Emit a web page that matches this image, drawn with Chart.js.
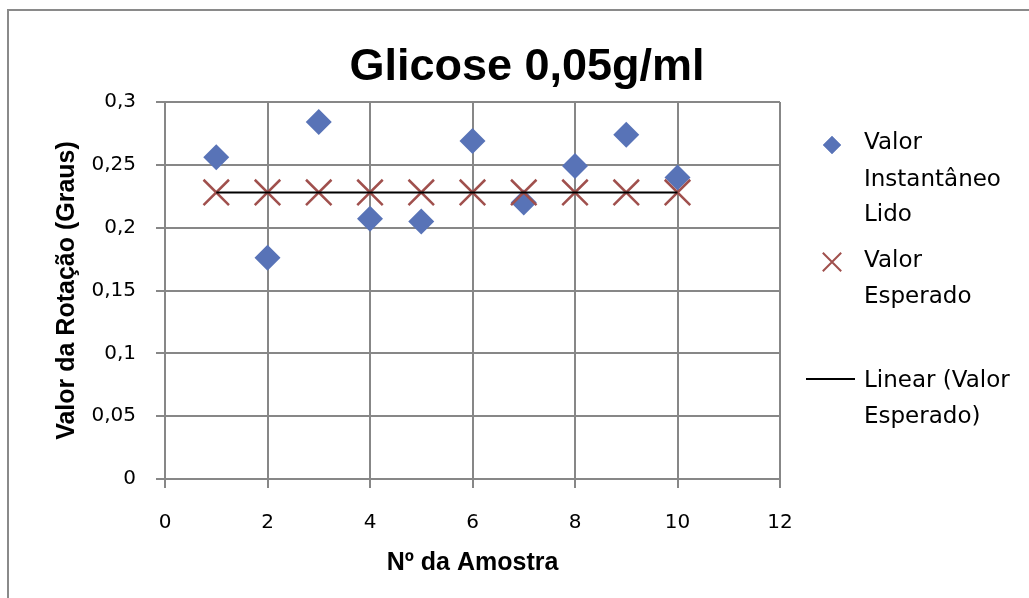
<!DOCTYPE html>
<html>
<head>
<meta charset="utf-8">
<script src="https://cdn.jsdelivr.net/npm/chart.js@4"></script>
<style>
  html, body { margin: 0; padding: 0; background: #fff; }
  canvas { display: block; }
</style>
</head>
<body>
<canvas id="grafico" width="1029" height="598"></canvas>
<script>
// Amostras e leituras
const amostras = [1, 2, 3, 4, 5, 6, 7, 8, 9, 10];
const valorLido = [0.256, 0.176, 0.284, 0.207, 0.205, 0.269, 0.220, 0.249, 0.274, 0.240];
const valorEsperado = [0.228, 0.228, 0.228, 0.228, 0.228, 0.228, 0.228, 0.228, 0.228, 0.228];

const titulo = 'Glicose 0,05g/ml';
const tituloX = 'Nº da Amostra';
const tituloY = 'Valor da Rotação (Graus)';
const legendaLido = ['Valor', 'Instantâneo', 'Lido'];
const legendaEsperado = ['Valor', 'Esperado'];
const legendaLinear = ['Linear (Valor', 'Esperado)'];

// linha de tendência linear (mínimos quadrados) sobre o valor esperado
function tendencia(xs, ys) {
    const n = xs.length;
    const mx = xs.reduce((a, b) => a + b, 0) / n;
    const my = ys.reduce((a, b) => a + b, 0) / n;
    let sxy = 0, sxx = 0;
    xs.forEach((x, i) => { sxy += (x - mx) * (ys[i] - my); sxx += (x - mx) * (x - mx); });
    const m = sxx ? sxy / sxx : 0;
    const b = my - m * mx;
    const x0 = Math.min(...xs), x1 = Math.max(...xs);
    return [{ x: x0, y: m * x0 + b }, { x: x1, y: m * x1 + b }];
}

const azul = '#5873b7';
const vermelho = '#a0504d';
const cinza = '#878787';

// moldura, título e legenda desenhados no canvas
const extras = {
    id: 'extras',
    beforeDraw(chart) {
        const ctx = chart.ctx;
        ctx.save();
        ctx.fillStyle = '#fff';
        ctx.fillRect(0, 0, chart.width, chart.height);
        ctx.strokeStyle = '#8a8a8a';
        ctx.lineWidth = 2;
        ctx.strokeRect(8, 10, chart.width + 20, chart.height + 20);
        ctx.restore();
    },
    afterDraw(chart) {
        const ctx = chart.ctx;
        ctx.save();
        ctx.fillStyle = '#000';
        ctx.font = 'bold 45px "Liberation Sans", Arial, sans-serif';
        ctx.textAlign = 'center';
        ctx.textBaseline = 'alphabetic';
        ctx.fillText(titulo, 527, 80);

        // legenda
        const ds = chart.data.datasets;
        ctx.font = '23px "DejaVu Sans", sans-serif';
        ctx.textAlign = 'left';
        ctx.textBaseline = 'middle';
        const tx = 864;

        ctx.fillStyle = ds[0].backgroundColor;
        Chart.helpers.drawPoint(ctx, { pointStyle: 'rectRot', radius: 9, borderWidth: 0, rotation: 0 }, 832, 145);
        ctx.fill();

        ctx.strokeStyle = ds[1].borderColor;
        ctx.lineWidth = 2;
        Chart.helpers.drawPoint(ctx, { pointStyle: 'crossRot', radius: 13, borderWidth: 2, rotation: 0 }, 832, 262);

        ctx.beginPath();
        ctx.strokeStyle = '#000';
        ctx.lineWidth = 2;
        ctx.moveTo(806, 379);
        ctx.lineTo(855, 379);
        ctx.stroke();

        ctx.fillStyle = '#000';
        [143.5, 180, 215.5].forEach((y, i) => ctx.fillText(legendaLido[i], tx, y));
        [261.5, 297].forEach((y, i) => ctx.fillText(legendaEsperado[i], tx, y));
        [381, 417].forEach((y, i) => ctx.fillText(legendaLinear[i], tx, y));
        ctx.restore();
    }
};

const fmt = v => String(Number(v.toFixed(2))).replace('.', ',');

new Chart(document.getElementById('grafico'), {
    type: 'scatter',
    data: {
        datasets: [
            {
                label: 'Valor Instantâneo Lido',
                data: amostras.map((x, i) => ({ x, y: valorLido[i] })),
                pointStyle: 'rectRot',
                pointRadius: 13,
                pointBorderWidth: 0,
                backgroundColor: azul,
                borderColor: azul,
                order: 2
            },
            {
                label: 'Valor Esperado',
                data: amostras.map((x, i) => ({ x, y: valorEsperado[i] })),
                pointStyle: 'crossRot',
                pointRadius: 18,
                pointBorderWidth: 2.5,
                borderColor: vermelho,
                backgroundColor: vermelho,
                order: 1
            },
            {
                type: 'line',
                label: 'Linear (Valor Esperado)',
                data: tendencia(amostras, valorEsperado),
                borderColor: '#000',
                borderWidth: 2,
                pointRadius: 0,
                fill: false,
                order: 0
            }
        ]
    },
    options: {
        responsive: false,
        animation: false,
        devicePixelRatio: 1,
        layout: { padding: { top: 102, right: 249, left: 0, bottom: 0 } },
        plugins: {
            legend: { display: false },
            title: { display: false },
            tooltip: { enabled: false }
        },
        scales: {
            x: {
                type: 'linear',
                min: 0,
                max: 12,
                afterFit: s => { s.height = 119; },
                ticks: {
                    stepSize: 2,
                    color: '#000',
                    padding: 23,
                    font: { family: '"DejaVu Sans", sans-serif', size: 20 },
                    callback: v => fmt(v)
                },
                grid: { color: cinza, lineWidth: 2, tickLength: 9 },
                border: { color: cinza, width: 2 },
                title: {
                    display: true,
                    text: tituloX,
                    color: '#000',
                    font: { family: '"Liberation Sans", Arial, sans-serif', size: 25, weight: 'bold' },
                    padding: { top: 0, bottom: 20 }
                }
            },
            y: {
                min: 0,
                max: 0.3,
                afterFit: s => { s.width = 165; },
                ticks: {
                    stepSize: 0.05,
                    color: '#000',
                    padding: 20,
                    font: { family: '"DejaVu Sans", sans-serif', size: 20 },
                    callback: v => fmt(v)
                },
                grid: { color: cinza, lineWidth: 2, tickLength: 9 },
                border: { color: cinza, width: 2 },
                title: {
                    display: true,
                    text: tituloY,
                    color: '#000',
                    font: { family: '"Liberation Sans", Arial, sans-serif', size: 25, weight: 'bold' },
                    padding: { top: 52, bottom: 0 }
                }
            }
        }
    },
    plugins: [extras]
});
</script>
</body>
</html>
